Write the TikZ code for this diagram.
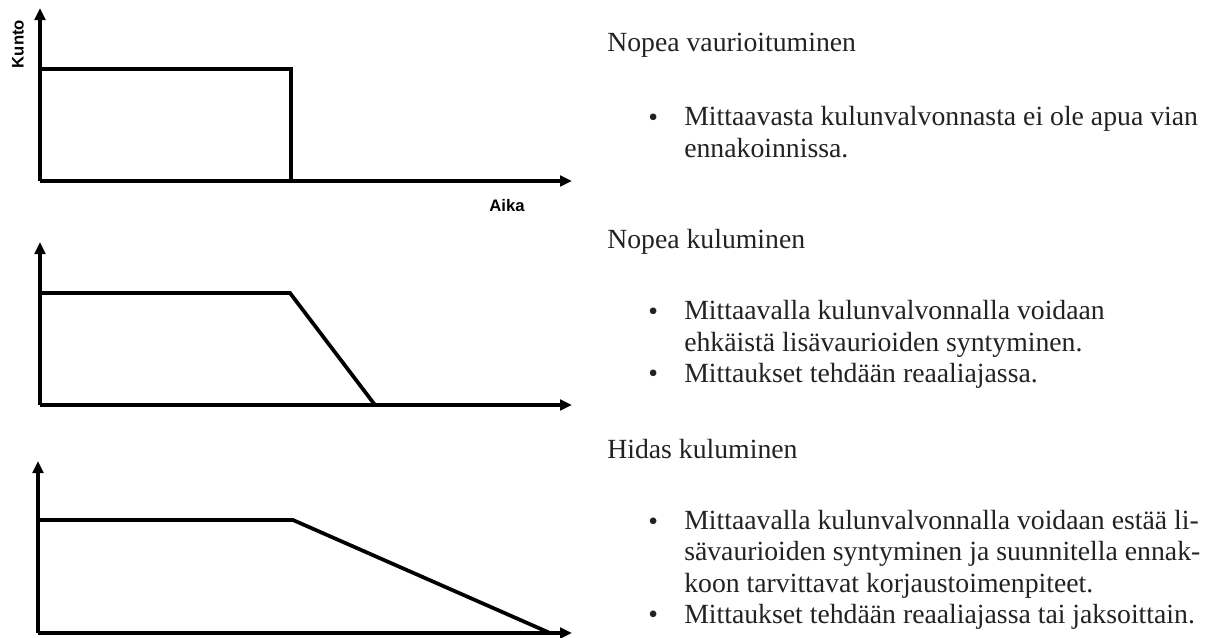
\documentclass[tikz,border=0pt]{standalone}
\usepackage{fontspec}
\setmainfont{Liberation Serif}
\newfontfamily\labelfont{Liberation Sans}
\usetikzlibrary{arrows.meta}
\definecolor{ink}{HTML}{222222}
\tikzset{
  axis/.style={line width=2.8pt, -{Triangle[length=9pt,width=8pt]}},
  curve/.style={line width=2.8pt, line join=miter},
  bodyfont/.style={font=\fontsize{20.8}{23.3}\selectfont, text=ink, inner sep=0pt},
  body/.style={bodyfont, anchor=base west, align=left},
  bul/.style={bodyfont, anchor=base west},
  axlabel/.style={font=\labelfont\bfseries\fontsize{12.5}{14}\selectfont, inner sep=0pt}
}
\begin{document}
\begin{tikzpicture}[x=0.75pt, y=-0.75pt]
\useasboundingbox (0,0) rectangle (1216,637);
% ---- graph 1 ----
\coordinate (o1) at (40,181);
\coordinate (y1) at (40,8);
\coordinate (x1) at (572,181);
\coordinate (a1) at (40,69);
\coordinate (b1) at (291,69);
\coordinate (c1) at (291,181);
\draw[axis] (o1) -- (y1);
\draw[axis] (o1) -- (x1);
\draw[curve] (a1) -- (b1) -- (c1);
\node[axlabel, rotate=90] (kunto) at (18,44) {Kunto};
\node[axlabel] (aika) at (507,206) {Aika};
% ---- graph 2 ----
\coordinate (o2) at (40,405);
\coordinate (y2) at (40,242);
\coordinate (x2) at (572,405);
\coordinate (a2) at (40,293);
\coordinate (b2) at (290,293);
\coordinate (c2) at (375,405);
\draw[axis] (o2) -- (y2);
\draw[axis] (o2) -- (x2);
\draw[curve] (a2) -- (b2) -- (c2);
% ---- graph 3 ----
\coordinate (o3) at (38,633);
\coordinate (y3) at (38,461);
\coordinate (x3) at (572,633);
\coordinate (a3) at (38,520);
\coordinate (b3) at (293,520);
\coordinate (c3) at (550,633);
\draw[axis] (o3) -- (y3);
\draw[axis] (o3) -- (x3);
\draw[curve] (a3) -- (b3) -- (c3);
% ---- text ----
\node[body] (h1) at (607,51) {Nopea vaurioituminen};
\node[bul] (p1) at (648,126) {•};
\node[body] (t1) at (684,157) {Mittaavasta kulunvalvonnasta ei ole apua vian\\ennakoinnissa.};
\node[body] (h2) at (607,248) {Nopea kuluminen};
\node[bul] (p2) at (648,320) {•};
\node[body] (t2) at (684,351) {Mittaavalla kulunvalvonnalla voidaan\\ehkäistä lisävaurioiden syntyminen.};
\node[bul] (p3) at (648,382) {•};
\node[body] (t3) at (684,382) {Mittaukset tehdään reaaliajassa.};
\node[body] (h3) at (607,458) {Hidas kuluminen};
\node[bul] (p4) at (648,530) {•};
\node[body] (t4) at (684,592) {Mittaavalla kulunvalvonnalla voidaan estää li-\\sävaurioiden syntyminen ja suunnitella ennak-\\koon tarvittavat korjaustoimenpiteet.};
\node[bul] (p5) at (648,623) {•};
\node[body] (t5) at (684,623) {Mittaukset tehdään reaaliajassa tai jaksoittain.};
\end{tikzpicture}
\end{document}
